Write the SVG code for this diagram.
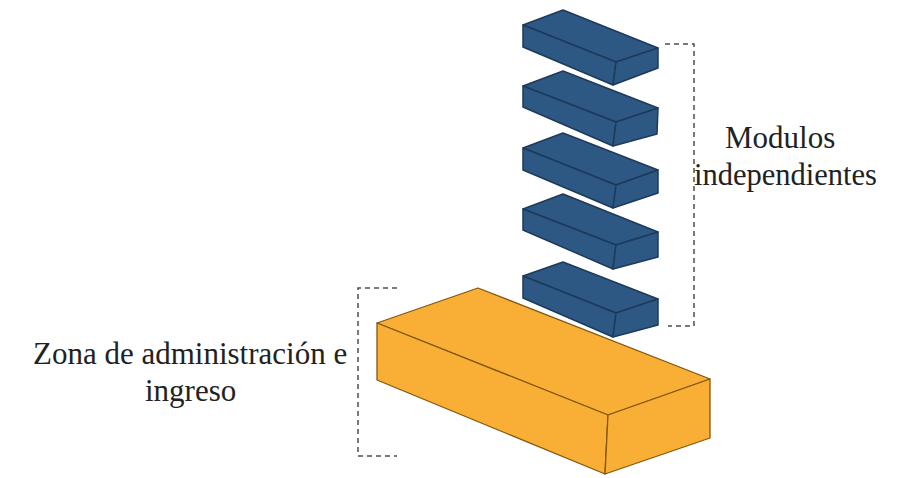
<svg xmlns="http://www.w3.org/2000/svg" width="909" height="478" viewBox="0 0 909 478">
<style>
.blue polygon{fill:#2e5884;stroke:#1d3a5a;stroke-width:1.5;stroke-linejoin:round}
.orange polygon{fill:#f9ae36;stroke:#85580f;stroke-width:1.3;stroke-linejoin:round}
.br{fill:none;stroke:#4d4d4d;stroke-width:1.5;stroke-dasharray:5 4}
text{font-family:"Liberation Serif","Times New Roman",serif;font-size:31px;fill:#222}
</style>
<rect width="909" height="478" fill="#fff"/>
<g id="modulo-1" class="blue"><polygon points="563,10 523,25 616,62 658,48"/><polygon points="523,25 616,62 613,85 523,47"/><polygon points="616,62 658,48 658,68 613,85"/></g>
<g id="modulo-2" class="blue"><polygon points="563,71 523,86 616,122 658,108"/><polygon points="523,86 616,122 613,146 523,107"/><polygon points="616,122 658,108 657,134 613,146"/></g>
<g id="modulo-3" class="blue"><polygon points="563,133 523,148 616,185 658,170"/><polygon points="523,148 616,185 613,208 523,170"/><polygon points="616,185 658,170 658,193 613,208"/></g>
<g id="modulo-4" class="blue"><polygon points="563,194 523,209 616,245 658,232"/><polygon points="523,209 616,245 613,269 523,230"/><polygon points="616,245 658,232 658,257 613,269"/></g>
<g id="modulo-5" class="blue"><polygon points="563,262 523,276 616,313 658,299"/><polygon points="523,276 616,313 613,337 523,298"/><polygon points="616,313 658,299 658,325 613,337"/></g>
<g id="zona" class="orange"><polygon points="478,288 377,323 608,415 710,379"/><polygon points="377,323 608,415 605,474 377,380"/><polygon points="608,415 710,379 710,438 605,474"/></g>
<g id="connectors">
<path class="br" d="M665,44H694V326H668"/>
<path class="br" d="M397,288H358V456H397"/>
</g>
<g id="label-modulos"><text x="725" y="148">Modulos</text><text x="694" y="185" style="font-size:30.5px">independientes</text></g>
<g id="label-zona"><text x="33" y="364">Zona de administración e</text><text x="145" y="401">ingreso</text></g>
</svg>
